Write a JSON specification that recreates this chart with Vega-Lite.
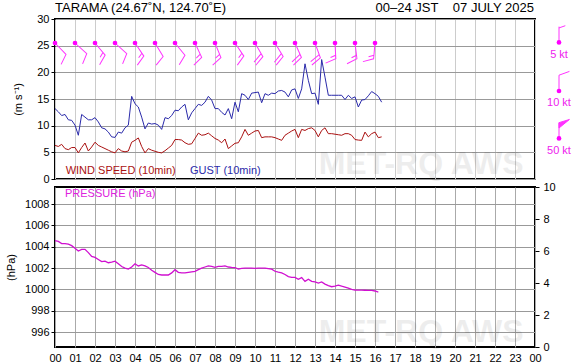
{
  "$schema": "https://vega.github.io/schema/vega-lite/v6.json",
  "background": "white",
  "padding": {"left": 4, "top": 0, "right": 0, "bottom": 0},
  "bounds": "flush",
  "spacing": 8,
  "config": {
    "font": "Liberation Sans",
    "view": {"stroke": "#000000", "strokeWidth": 2},
    "axis": {"labelFont": "Liberation Sans", "labelFontSize": 11, "labelColor": "#000000", "titleFont": "Liberation Sans", "titleFontSize": 11, "titleFontWeight": "normal", "titleColor": "#000000", "tickColor": "#000000", "tickSize": 4, "domain": false, "gridWidth": 1, "labelOverlap": false, "labelFlush": false, "tickCount": 60, "format": "d"},
    "text": {"font": "Liberation Sans"}
  },
  "datasets": {
    "obs": [
      {"min":0,"ws":6.3,"gust":13.2,"p":1004.57},{"min":10,"ws":6.1,"gust":12.6,"p":1004.5},{"min":20,"ws":6.5,"gust":11.9,"p":1004.3},{"min":30,"ws":5.7,"gust":12.1,"p":1004.3},{"min":40,"ws":5.5,"gust":11.1,"p":1004.25},{"min":50,"ws":5.9,"gust":11.0,"p":1004.1},
      {"min":60,"ws":5.9,"gust":10.1,"p":1003.85},{"min":70,"ws":4.9,"gust":8.2,"p":1003.6},{"min":80,"ws":5.9,"gust":12.1,"p":1003.75},{"min":90,"ws":6.75,"gust":11.6,"p":1003.75},{"min":100,"ws":5.25,"gust":11.1,"p":1003.45},{"min":110,"ws":6.0,"gust":11.1,"p":1003.1},
      {"min":120,"ws":6.9,"gust":11.5,"p":1003.0},{"min":130,"ws":6.3,"gust":10.7,"p":1002.8},{"min":140,"ws":6.0,"gust":9.6,"p":1002.6},{"min":150,"ws":5.7,"gust":9.4,"p":1002.65},{"min":160,"ws":5.4,"gust":8.8,"p":1002.5},{"min":170,"ws":5.1,"gust":7.9,"p":1002.55},
      {"min":180,"ws":4.9,"gust":7.8,"p":1002.65},{"min":190,"ws":5.7,"gust":8.8,"p":1002.4},{"min":200,"ws":5.25,"gust":8.6,"p":1002.15},{"min":210,"ws":5.1,"gust":9.6,"p":1002.0},{"min":220,"ws":5.25,"gust":10.1,"p":1001.9},{"min":230,"ws":6.9,"gust":15.5,"p":1002.1},
      {"min":240,"ws":7.25,"gust":14.1,"p":1002.4},{"min":250,"ws":7.7,"gust":13.5,"p":1002.2},{"min":260,"ws":6.1,"gust":11.6,"p":1002.3},{"min":270,"ws":4.9,"gust":9.4,"p":1002.2},{"min":280,"ws":5.7,"gust":10.5,"p":1002.05},{"min":290,"ws":5.4,"gust":10.3,"p":1001.8},
      {"min":300,"ws":5.2,"gust":10.4,"p":1001.6},{"min":310,"ws":5.0,"gust":10.1,"p":1001.4},{"min":320,"ws":4.9,"gust":9.3,"p":1001.35},{"min":330,"ws":5.3,"gust":11.5,"p":1001.35},{"min":340,"ws":5.8,"gust":11.3,"p":1001.35},{"min":350,"ws":6.3,"gust":11.9,"p":1001.55},
      {"min":360,"ws":7.4,"gust":12.9,"p":1001.85},{"min":370,"ws":7.4,"gust":12.8,"p":1001.6},{"min":380,"ws":7.3,"gust":13.5,"p":1001.55},{"min":390,"ws":6.8,"gust":14.0,"p":1001.55},{"min":400,"ws":6.5,"gust":11.1,"p":1001.6},{"min":410,"ws":6.6,"gust":12.4,"p":1001.65},
      {"min":420,"ws":7.6,"gust":13.2,"p":1001.7},{"min":430,"ws":8.6,"gust":14.0,"p":1001.85},{"min":440,"ws":8.2,"gust":13.8,"p":1002.0},{"min":450,"ws":8.3,"gust":14.4,"p":1002.1},{"min":460,"ws":8.6,"gust":15.5,"p":1002.2},{"min":470,"ws":8.1,"gust":14.8,"p":1002.15},
      {"min":480,"ws":7.6,"gust":13.2,"p":1002.07},{"min":490,"ws":7.3,"gust":13.2,"p":1002.15},{"min":500,"ws":6.8,"gust":12.5,"p":1002.15},{"min":510,"ws":7.5,"gust":12.0,"p":1002.2},{"min":520,"ws":5.7,"gust":13.2,"p":1002.1},{"min":530,"ws":6.2,"gust":11.3,"p":1002.07},
      {"min":540,"ws":6.7,"gust":14.4,"p":1002.05},{"min":550,"ws":6.8,"gust":12.6,"p":1001.9},{"min":560,"ws":7.9,"gust":16.0,"p":1001.97},{"min":570,"ws":9.3,"gust":15.7,"p":1002.0},{"min":580,"ws":8.2,"gust":14.9,"p":1002.0},{"min":590,"ws":8.6,"gust":16.1,"p":1002.0},
      {"min":600,"ws":9.0,"gust":16.2,"p":1001.98},{"min":610,"ws":9.1,"gust":16.3,"p":1002.0},{"min":620,"ws":7.75,"gust":14.3,"p":1002.0},{"min":630,"ws":7.9,"gust":16.0,"p":1002.0},{"min":640,"ws":7.9,"gust":15.7,"p":1001.95},{"min":650,"ws":7.9,"gust":16.1,"p":1001.9},
      {"min":660,"ws":7.75,"gust":16.0,"p":1001.7},{"min":670,"ws":7.5,"gust":16.5,"p":1001.62},{"min":680,"ws":7.25,"gust":16.6,"p":1001.55},{"min":690,"ws":8.2,"gust":16.3,"p":1001.4},{"min":700,"ws":8.6,"gust":15.4,"p":1001.2},{"min":710,"ws":9.0,"gust":16.7,"p":1001.13},
      {"min":720,"ws":9.3,"gust":16.9,"p":1001.13},{"min":730,"ws":7.75,"gust":15.1,"p":1000.95},{"min":740,"ws":9.3,"gust":16.9,"p":1001.1},{"min":750,"ws":9.1,"gust":21.6,"p":1000.75},{"min":760,"ws":9.45,"gust":18.5,"p":1000.95},{"min":770,"ws":9.6,"gust":16.0,"p":1000.75},
      {"min":780,"ws":9.1,"gust":16.1,"p":1000.7},{"min":790,"ws":7.9,"gust":14.0,"p":1000.6},{"min":800,"ws":9.1,"gust":22.4,"p":1000.7},{"min":810,"ws":9.6,"gust":19.1,"p":1000.5},{"min":820,"ws":8.5,"gust":15.7,"p":1000.35},{"min":830,"ws":8.5,"gust":15.7,"p":1000.25},
      {"min":840,"ws":8.4,"gust":15.7,"p":1000.3},{"min":850,"ws":8.3,"gust":15.7,"p":1000.4},{"min":860,"ws":8.2,"gust":15.7,"p":1000.3},{"min":870,"ws":8.5,"gust":14.9,"p":1000.22},{"min":880,"ws":8.5,"gust":15.7,"p":1000.12},{"min":890,"ws":8.2,"gust":15.1,"p":1000.0},
      {"min":900,"ws":7.4,"gust":15.4,"p":999.94},{"min":910,"ws":7.3,"gust":13.5,"p":999.94},{"min":920,"ws":7.25,"gust":14.8,"p":999.94},{"min":930,"ws":8.8,"gust":14.9,"p":999.92},{"min":940,"ws":7.9,"gust":15.6,"p":999.9},{"min":950,"ws":8.5,"gust":16.4,"p":999.9},
      {"min":960,"ws":8.8,"gust":16.0,"p":999.85},{"min":970,"ws":7.75,"gust":15.5,"p":999.75},{"min":980,"ws":7.9,"gust":14.4,"p":null}
    ],
    "barbs": [
      {"min":0,"dir":136,"kt":"10"},{"min":60,"dir":132,"kt":"10"},{"min":120,"dir":140,"kt":"15"},{"min":180,"dir":132,"kt":"10"},{"min":240,"dir":146,"kt":"15"},{"min":300,"dir":149,"kt":"10"},
      {"min":360,"dir":141,"kt":"10"},{"min":420,"dir":155,"kt":"15"},{"min":480,"dir":158,"kt":"15"},{"min":540,"dir":146,"kt":"15"},{"min":600,"dir":150,"kt":"20"},{"min":660,"dir":149,"kt":"20"},
      {"min":720,"dir":156,"kt":"20"},{"min":780,"dir":160,"kt":"20"},{"min":840,"dir":177,"kt":"15"},{"min":900,"dir":173,"kt":"15"},{"min":960,"dir":185,"kt":"15"}
    ]
  },
  "vconcat": [
    {
      "width": 480,
      "height": 160,
      "layer": [
        {
          "data": {"name": "obs"},
          "mark": {"type": "line", "color": "#2a2aaa", "strokeWidth": 1},
          "encoding": {
            "x": {"field": "min", "type": "quantitative", "scale": {"domain": [0, 1440], "nice": false},
                  "axis": {"values": [0,60,120,180,240,300,360,420,480,540,600,660,720,780,840,900,960,1020,1080,1140,1200,1260,1320,1380,1440], "tickCount": 60, "labels": false, "ticks": false, "domain": false, "title": null, "grid": true, "gridColor": "#cccccc"}},
            "y": {"field": "gust", "type": "quantitative", "title": "(m s⁻¹)", "scale": {"domain": [0, 30], "nice": false, "zero": false},
                  "axis": {"values": [0,5,10,15,20,25,30], "tickCount": 60, "format": "d", "gridColor": "#999999", "titlePadding": 13, "labelPadding": 2}}
          }
        },
        {
          "data": {"name": "obs"},
          "mark": {"type": "line", "color": "#aa1111", "strokeWidth": 1},
          "encoding": {
            "x": {"field": "min", "type": "quantitative", "title": null},
            "y": {"field": "ws", "type": "quantitative", "title": "(m s⁻¹)"}
          }
        },
        {
          "data": {"values": [{}]},
          "mark": {"type": "text", "text": "MET-RQ AWS", "fontSize": 32, "fontWeight": "bold", "align": "right", "baseline": "alphabetic", "color": "#000000", "opacity": 0.065},
          "encoding": {"x": {"datum": 1406}, "y": {"datum": 1.0}}
        },
        {
          "data": {"values": [{}]},
          "mark": {"type": "text", "text": "WIND SPEED (10min)", "fontSize": 11, "align": "left", "baseline": "middle", "color": "#aa1111"},
          "encoding": {"x": {"datum": 32}, "y": {"datum": 1.45}}
        },
        {
          "data": {"values": [{}]},
          "mark": {"type": "text", "text": "GUST (10min)", "fontSize": 11, "align": "left", "baseline": "middle", "color": "#2a2aaa"},
          "encoding": {"x": {"datum": 405}, "y": {"datum": 1.45}}
        },
        {
          "data": {"values": [{}]},
          "mark": {"type": "text", "text": "TARAMA (24.67˚N, 124.70˚E)", "fontSize": 13, "align": "left", "baseline": "alphabetic", "color": "#000000"},
          "encoding": {"x": {"datum": 0}, "y": {"datum": 31.35}}
        },
        {
          "data": {"values": [{}]},
          "mark": {"type": "text", "text": "00–24 JST\u00a0\u00a0\u00a0 07 JULY 2025", "fontSize": 13, "align": "right", "baseline": "alphabetic", "color": "#000000"},
          "encoding": {"x": {"datum": 1437}, "y": {"datum": 31.35}}
        },
        {
          "data": {"name": "barbs"},
          "mark": {"type": "point", "filled": false, "stroke": "#ff33ff", "color": "#ff33ff", "strokeWidth": 1, "size": 1000, "opacity": 1},
          "encoding": {
            "x": {"field": "min", "type": "quantitative", "title": null},
            "y": {"datum": 25.5},
            "shape": {"field": "kt", "type": "nominal", "legend": null,
                      "scale": {"domain": ["10", "15", "20"], "range": ["M0,0L0,-1L0.66,-1.24", "M0,0L0,-1L0.66,-1.24M0,-0.78L0.33,-0.9", "M0,0L0,-1L0.66,-1.24M0,-0.78L0.66,-1.02"]}},
            "angle": {"field": "dir", "type": "quantitative", "legend": null, "scale": {"domain": [0, 360], "range": [0, 360]}}
          }
        },
        {
          "data": {"name": "barbs"},
          "mark": {"type": "point", "filled": true, "shape": "circle", "color": "#ff00ff", "size": 22, "opacity": 1},
          "encoding": {"x": {"field": "min", "type": "quantitative", "title": null}, "y": {"datum": 25.5}}
        },
        {
          "data": {"values": [{}]},
          "mark": {"type": "point", "filled": false, "color": "#ff33ff", "strokeWidth": 1, "size": 1000, "opacity": 1, "shape": "M0,0L0,-1M0,-0.92L0.4,-1.06"},
          "encoding": {"x": {"datum": 1512}, "y": {"datum": 25.6}}
        },
        {
          "data": {"values": [{}]},
          "mark": {"type": "point", "filled": false, "color": "#ff33ff", "strokeWidth": 1, "size": 1000, "opacity": 1, "shape": "M0,0L0,-1L0.66,-1.24"},
          "encoding": {"x": {"datum": 1512}, "y": {"datum": 16.5}}
        },
        {
          "data": {"values": [{}]},
          "mark": {"type": "point", "filled": true, "fill": "#ff33ff", "stroke": "#ff33ff", "strokeWidth": 1, "size": 1000, "opacity": 1, "shape": "M0,0L0,-1M0,-1L0.66,-1.2L0,-0.66Z"},
          "encoding": {"x": {"datum": 1512}, "y": {"datum": 7.6}}
        },
        {
          "data": {"values": [{}]},
          "mark": {"type": "point", "filled": true, "shape": "circle", "color": "#ff00ff", "size": 22, "opacity": 1},
          "encoding": {"x": {"datum": 1512}, "y": {"datum": 25.6}}
        },
        {
          "data": {"values": [{}]},
          "mark": {"type": "point", "filled": true, "shape": "circle", "color": "#ff00ff", "size": 22, "opacity": 1},
          "encoding": {"x": {"datum": 1512}, "y": {"datum": 16.5}}
        },
        {
          "data": {"values": [{}]},
          "mark": {"type": "point", "filled": true, "shape": "circle", "color": "#ff00ff", "size": 22, "opacity": 1},
          "encoding": {"x": {"datum": 1512}, "y": {"datum": 7.6}}
        },
        {
          "data": {"values": [{}]},
          "mark": {"type": "text", "text": "5 kt", "fontSize": 11, "align": "center", "baseline": "middle", "color": "#ee22ee"},
          "encoding": {"x": {"datum": 1512}, "y": {"datum": 23.2}}
        },
        {
          "data": {"values": [{}]},
          "mark": {"type": "text", "text": "10 kt", "fontSize": 11, "align": "center", "baseline": "middle", "color": "#ee22ee"},
          "encoding": {"x": {"datum": 1512}, "y": {"datum": 14.25}}
        },
        {
          "data": {"values": [{}]},
          "mark": {"type": "text", "text": "50 kt", "fontSize": 11, "align": "center", "baseline": "middle", "color": "#ee22ee"},
          "encoding": {"x": {"datum": 1512}, "y": {"datum": 5.25}}
        }
      ]
    },
    {
      "width": 480,
      "height": 160,
      "resolve": {"scale": {"y": "independent"}, "axis": {"y": "independent"}},
      "layer": [
        {
          "layer": [
            {
              "data": {"name": "obs"},
              "mark": {"type": "line", "color": "#d010d0", "strokeWidth": 1.3},
              "encoding": {
                "x": {"field": "min", "type": "quantitative", "scale": {"domain": [0, 1440], "nice": false},
                      "axis": {"values": [0,60,120,180,240,300,360,420,480,540,600,660,720,780,840,900,960,1020,1080,1140,1200,1260,1320,1380,1440], "tickCount": 60, "ticks": false, "labelPadding": 5, "labelFlush": false, "domain": false, "title": null, "grid": true, "gridColor": "#aaaaaa",
                               "labelExpr": "(datum.value/60)%24 < 10 ? '0' + ((datum.value/60)%24) : '' + ((datum.value/60)%24)"}},
                "y": {"field": "p", "type": "quantitative", "title": "(hPa)", "scale": {"domain": [994.6, 1009.6], "nice": false, "zero": false},
                      "axis": {"values": [996,998,1000,1002,1004,1006,1008], "tickCount": 60, "format": "d", "gridColor": "#999999", "titlePadding": 8, "labelPadding": 2}}
              }
            },
            {
              "data": {"values": [{}]},
              "mark": {"type": "text", "text": "MET-RQ AWS", "fontSize": 32, "fontWeight": "bold", "align": "right", "baseline": "alphabetic", "color": "#000000", "opacity": 0.065},
              "encoding": {"x": {"datum": 1406}, "y": {"datum": 995.1}}
            },
            {
              "data": {"values": [{}]},
              "mark": {"type": "text", "text": "PRESSURE (hPa)", "fontSize": 11, "align": "left", "baseline": "middle", "color": "#dd22dd"},
              "encoding": {"x": {"datum": 30}, "y": {"datum": 1008.92}}
            }
          ]
        },
        {
          "data": {"values": [{}]},
          "mark": {"type": "rule", "opacity": 0},
          "encoding": {
            "y": {"datum": 0, "type": "quantitative", "title": "(mm)", "scale": {"domain": [0, 10], "nice": false},
                  "axis": {"orient": "right", "values": [0,2,4,6,8,10], "tickCount": 60, "format": "d", "grid": false, "titlePadding": 12, "labelPadding": 4, "titleAngle": 270}}
          }
        }
      ]
    }
  ]
}
